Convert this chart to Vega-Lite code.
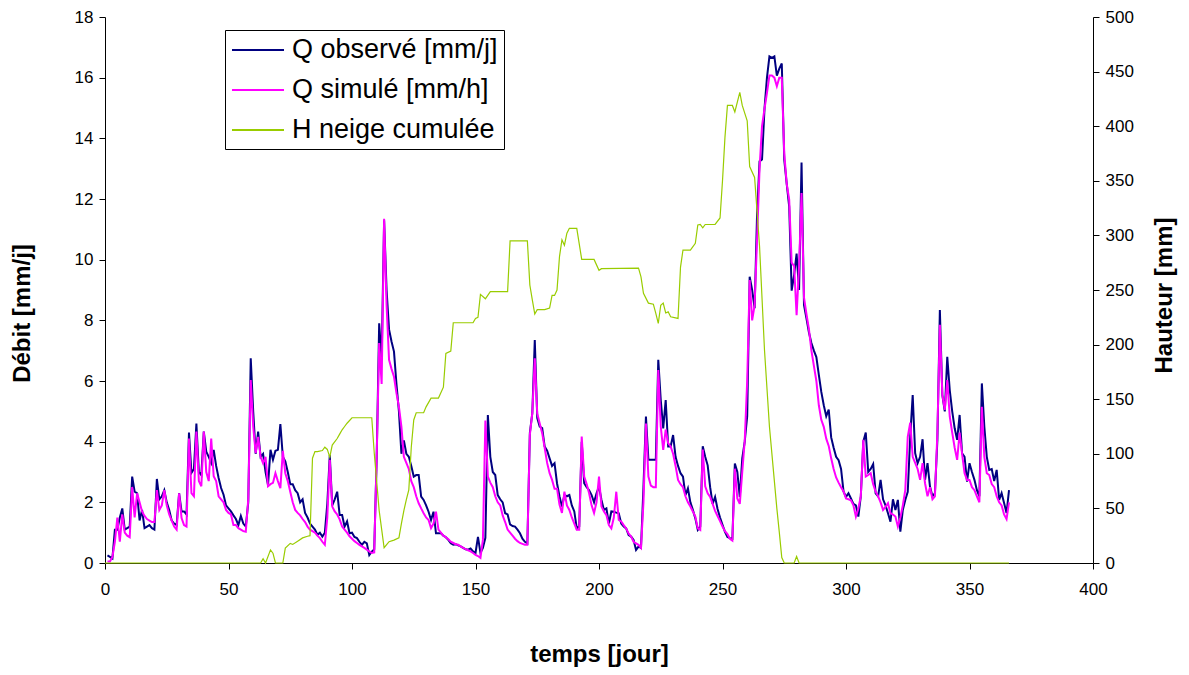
{
 "$schema": "https://vega.github.io/schema/vega-lite/v6.json",
 "width": 988, "height": 546,
 "autosize": {"type": "none"},
 "padding": {"left": 105, "top": 17, "right": 96, "bottom": 112},
 "background": "white",
 "config": {"view": {"stroke": null}, "font": "Liberation Sans",
  "axis": {"grid": false, "labelFlush": false, "domainColor": "#000", "tickColor": "#000", "labelColor": "#000", "titleColor": "#000", "labelFont": "Liberation Sans", "titleFont": "Liberation Sans", "labelFontSize": 17, "titleFontSize": 24, "titleFontWeight": "bold", "tickSize": 6, "labelPadding": 5}},
 "datasets": {
  "obs": [{"t":1,"v":0.25},{"t":2,"v":0.2},{"t":3,"v":0.15},{"t":4,"v":1.1},{"t":5,"v":1.1},{"t":6,"v":1.5},{"t":7,"v":1.8},{"t":8,"v":1.1},{"t":9,"v":1.15},{"t":10,"v":1.2},{"t":11,"v":2.85},{"t":12,"v":2.35},{"t":13,"v":2.3},{"t":14,"v":1.4},{"t":15,"v":1.75},{"t":16,"v":1.15},{"t":17,"v":1.2},{"t":18,"v":1.25},{"t":19,"v":1.15},{"t":20,"v":1.1},{"t":21,"v":2.77},{"t":22,"v":2.1},{"t":23,"v":2.2},{"t":24,"v":2.4},{"t":25,"v":2.0},{"t":26,"v":1.75},{"t":27,"v":1.4},{"t":28,"v":1.3},{"t":29,"v":1.25},{"t":30,"v":2.3},{"t":31,"v":1.7},{"t":32,"v":1.7},{"t":33,"v":1.6},{"t":34,"v":4.3},{"t":35,"v":2.97},{"t":36,"v":3.1},{"t":37,"v":4.6},{"t":38,"v":3.0},{"t":39,"v":2.9},{"t":40,"v":4.33},{"t":41,"v":3.67},{"t":42,"v":3.5},{"t":43,"v":3.3},{"t":44,"v":3.73},{"t":45,"v":3.2},{"t":46,"v":2.8},{"t":47,"v":2.47},{"t":48,"v":2.25},{"t":49,"v":1.9},{"t":50,"v":1.8},{"t":51,"v":1.7},{"t":52,"v":1.57},{"t":53,"v":1.45},{"t":54,"v":1.25},{"t":55,"v":1.55},{"t":56,"v":1.3},{"t":57,"v":1.2},{"t":58,"v":2.0},{"t":59,"v":6.75},{"t":60,"v":5.0},{"t":61,"v":3.6},{"t":62,"v":4.33},{"t":63,"v":3.5},{"t":64,"v":3.6},{"t":65,"v":3.0},{"t":66,"v":2.57},{"t":67,"v":3.73},{"t":68,"v":3.4},{"t":69,"v":3.7},{"t":70,"v":3.73},{"t":71,"v":4.58},{"t":72,"v":3.5},{"t":73,"v":3.35},{"t":74,"v":3.0},{"t":75,"v":2.6},{"t":76,"v":2.6},{"t":77,"v":2.4},{"t":78,"v":2.3},{"t":79,"v":2.0},{"t":80,"v":2.1},{"t":81,"v":1.65},{"t":82,"v":1.5},{"t":83,"v":1.3},{"t":84,"v":1.2},{"t":85,"v":1.1},{"t":86,"v":0.93},{"t":87,"v":1.0},{"t":88,"v":0.87},{"t":89,"v":1.0},{"t":90,"v":1.95},{"t":91,"v":3.56},{"t":92,"v":1.9},{"t":93,"v":2.1},{"t":94,"v":2.35},{"t":95,"v":1.58},{"t":96,"v":1.58},{"t":97,"v":1.2},{"t":98,"v":1.37},{"t":99,"v":0.98},{"t":100,"v":1.0},{"t":101,"v":0.86},{"t":102,"v":0.82},{"t":103,"v":0.7},{"t":104,"v":0.6},{"t":105,"v":0.7},{"t":106,"v":0.65},{"t":107,"v":0.26},{"t":108,"v":0.37},{"t":109,"v":0.45},{"t":110,"v":3.5},{"t":111,"v":7.9},{"t":112,"v":6.7},{"t":113,"v":11.3},{"t":114,"v":9.0},{"t":115,"v":7.7},{"t":116,"v":7.3},{"t":117,"v":6.97},{"t":118,"v":5.9},{"t":119,"v":5.0},{"t":120,"v":3.6},{"t":121,"v":4.04},{"t":122,"v":3.6},{"t":123,"v":3.5},{"t":124,"v":3.2},{"t":125,"v":2.85},{"t":126,"v":2.9},{"t":127,"v":2.9},{"t":128,"v":2.19},{"t":129,"v":2.08},{"t":130,"v":1.9},{"t":131,"v":1.69},{"t":132,"v":1.42},{"t":133,"v":1.69},{"t":134,"v":0.98},{"t":135,"v":0.98},{"t":136,"v":0.98},{"t":137,"v":0.9},{"t":138,"v":0.85},{"t":139,"v":0.76},{"t":140,"v":0.65},{"t":141,"v":0.6},{"t":142,"v":0.62},{"t":143,"v":0.58},{"t":144,"v":0.55},{"t":145,"v":0.5},{"t":146,"v":0.45},{"t":147,"v":0.44},{"t":148,"v":0.48},{"t":149,"v":0.38},{"t":150,"v":0.33},{"t":151,"v":0.86},{"t":152,"v":0.33},{"t":153,"v":0.5},{"t":154,"v":0.83},{"t":155,"v":4.88},{"t":156,"v":3.5},{"t":157,"v":3.0},{"t":158,"v":2.9},{"t":159,"v":2.24},{"t":160,"v":2.1},{"t":161,"v":2.0},{"t":162,"v":1.64},{"t":163,"v":1.6},{"t":164,"v":1.27},{"t":165,"v":1.22},{"t":166,"v":1.2},{"t":167,"v":1.1},{"t":168,"v":0.98},{"t":169,"v":0.8},{"t":170,"v":0.7},{"t":171,"v":0.65},{"t":172,"v":4.28},{"t":173,"v":4.94},{"t":174,"v":7.35},{"t":175,"v":4.78},{"t":176,"v":4.5},{"t":177,"v":4.45},{"t":178,"v":3.84},{"t":179,"v":3.7},{"t":180,"v":3.45},{"t":181,"v":3.2},{"t":182,"v":3.29},{"t":183,"v":2.63},{"t":184,"v":2.2},{"t":185,"v":1.86},{"t":186,"v":2.24},{"t":187,"v":2.2},{"t":188,"v":2.24},{"t":189,"v":1.9},{"t":190,"v":1.7},{"t":191,"v":1.14},{"t":192,"v":1.2},{"t":193,"v":4.0},{"t":194,"v":2.63},{"t":195,"v":2.5},{"t":196,"v":2.4},{"t":197,"v":2.24},{"t":198,"v":2.0},{"t":199,"v":2.3},{"t":200,"v":2.52},{"t":201,"v":2.08},{"t":202,"v":1.75},{"t":203,"v":1.8},{"t":204,"v":1.3},{"t":205,"v":1.7},{"t":206,"v":1.69},{"t":207,"v":1.66},{"t":208,"v":1.64},{"t":209,"v":1.3},{"t":210,"v":1.2},{"t":211,"v":1.14},{"t":212,"v":0.92},{"t":213,"v":0.87},{"t":214,"v":0.76},{"t":215,"v":0.43},{"t":216,"v":0.54},{"t":217,"v":0.5},{"t":218,"v":2.5},{"t":219,"v":4.83},{"t":220,"v":3.4},{"t":221,"v":3.4},{"t":222,"v":3.4},{"t":223,"v":3.4},{"t":224,"v":6.7},{"t":225,"v":5.37},{"t":226,"v":4.44},{"t":227,"v":5.37},{"t":228,"v":3.84},{"t":229,"v":3.84},{"t":230,"v":4.22},{"t":231,"v":3.5},{"t":232,"v":3.2},{"t":233,"v":2.96},{"t":234,"v":2.85},{"t":235,"v":2.24},{"t":236,"v":2.46},{"t":237,"v":2.0},{"t":238,"v":1.75},{"t":239,"v":1.47},{"t":240,"v":1.09},{"t":241,"v":1.2},{"t":242,"v":3.85},{"t":243,"v":3.5},{"t":244,"v":3.22},{"t":245,"v":2.5},{"t":246,"v":1.95},{"t":247,"v":2.18},{"t":248,"v":1.78},{"t":249,"v":1.5},{"t":250,"v":1.26},{"t":251,"v":1.03},{"t":252,"v":0.86},{"t":253,"v":0.82},{"t":254,"v":0.8},{"t":255,"v":3.28},{"t":256,"v":3.0},{"t":257,"v":2.18},{"t":258,"v":3.45},{"t":259,"v":4.0},{"t":260,"v":4.84},{"t":261,"v":9.44},{"t":262,"v":9.0},{"t":263,"v":8.4},{"t":264,"v":11.5},{"t":265,"v":13.24},{"t":266,"v":13.3},{"t":267,"v":14.97},{"t":268,"v":16.0},{"t":269,"v":16.7},{"t":270,"v":16.65},{"t":271,"v":16.7},{"t":272,"v":16.07},{"t":273,"v":16.3},{"t":274,"v":16.47},{"t":275,"v":13.3},{"t":276,"v":12.5},{"t":277,"v":11.75},{"t":278,"v":8.98},{"t":279,"v":9.5},{"t":280,"v":10.2},{"t":281,"v":9.0},{"t":282,"v":13.2},{"t":283,"v":8.5},{"t":284,"v":8.06},{"t":285,"v":7.6},{"t":286,"v":7.25},{"t":287,"v":7.0},{"t":288,"v":6.79},{"t":289,"v":6.2},{"t":290,"v":5.64},{"t":291,"v":5.2},{"t":292,"v":4.84},{"t":293,"v":5.06},{"t":294,"v":4.14},{"t":295,"v":3.8},{"t":296,"v":3.5},{"t":297,"v":3.39},{"t":298,"v":3.1},{"t":299,"v":2.36},{"t":300,"v":2.18},{"t":301,"v":2.3},{"t":302,"v":2.13},{"t":303,"v":1.95},{"t":304,"v":1.9},{"t":305,"v":1.53},{"t":306,"v":2.2},{"t":307,"v":4.0},{"t":308,"v":4.3},{"t":309,"v":3.0},{"t":310,"v":3.1},{"t":311,"v":3.26},{"t":312,"v":2.3},{"t":313,"v":2.2},{"t":314,"v":2.74},{"t":315,"v":2.1},{"t":316,"v":1.9},{"t":317,"v":1.64},{"t":318,"v":1.36},{"t":319,"v":2.1},{"t":320,"v":1.75},{"t":321,"v":2.08},{"t":322,"v":1.03},{"t":323,"v":1.75},{"t":324,"v":2.08},{"t":325,"v":2.35},{"t":326,"v":4.16},{"t":327,"v":5.54},{"t":328,"v":3.62},{"t":329,"v":3.29},{"t":330,"v":3.5},{"t":331,"v":4.08},{"t":332,"v":2.74},{"t":333,"v":3.29},{"t":334,"v":2.52},{"t":335,"v":2.2},{"t":336,"v":2.3},{"t":337,"v":4.06},{"t":338,"v":8.34},{"t":339,"v":5.54},{"t":340,"v":5.0},{"t":341,"v":6.8},{"t":342,"v":5.7},{"t":343,"v":5.0},{"t":344,"v":4.44},{"t":345,"v":4.06},{"t":346,"v":4.88},{"t":347,"v":3.62},{"t":348,"v":3.5},{"t":349,"v":2.68},{"t":350,"v":3.29},{"t":351,"v":3.0},{"t":352,"v":2.74},{"t":353,"v":2.4},{"t":354,"v":2.2},{"t":355,"v":5.92},{"t":356,"v":4.5},{"t":357,"v":3.5},{"t":358,"v":3.07},{"t":359,"v":3.1},{"t":360,"v":2.7},{"t":361,"v":3.07},{"t":362,"v":2.08},{"t":363,"v":2.3},{"t":364,"v":1.98},{"t":365,"v":1.65},{"t":366,"v":2.4}],
  "sim": [{"t":1,"v":0.05},{"t":2,"v":0.05},{"t":3,"v":0.2},{"t":4,"v":0.7},{"t":5,"v":1.5},{"t":6,"v":0.7},{"t":7,"v":1.6},{"t":8,"v":1.0},{"t":9,"v":0.9},{"t":10,"v":0.85},{"t":11,"v":2.5},{"t":12,"v":1.5},{"t":13,"v":2.3},{"t":14,"v":2.0},{"t":15,"v":1.7},{"t":16,"v":1.55},{"t":17,"v":1.45},{"t":18,"v":1.4},{"t":19,"v":1.35},{"t":20,"v":1.35},{"t":21,"v":2.4},{"t":22,"v":1.75},{"t":23,"v":1.9},{"t":24,"v":2.4},{"t":25,"v":1.9},{"t":26,"v":1.6},{"t":27,"v":1.4},{"t":28,"v":1.2},{"t":29,"v":1.1},{"t":30,"v":2.3},{"t":31,"v":1.48},{"t":32,"v":1.25},{"t":33,"v":1.2},{"t":34,"v":4.1},{"t":35,"v":2.3},{"t":36,"v":2.2},{"t":37,"v":4.33},{"t":38,"v":2.7},{"t":39,"v":2.53},{"t":40,"v":4.33},{"t":41,"v":3.0},{"t":42,"v":2.7},{"t":43,"v":4.1},{"t":44,"v":2.86},{"t":45,"v":2.7},{"t":46,"v":2.2},{"t":47,"v":2.1},{"t":48,"v":2.0},{"t":49,"v":1.75},{"t":50,"v":1.65},{"t":51,"v":1.6},{"t":52,"v":1.25},{"t":53,"v":1.25},{"t":54,"v":1.15},{"t":55,"v":1.1},{"t":56,"v":1.05},{"t":57,"v":1.03},{"t":58,"v":2.1},{"t":59,"v":6.03},{"t":60,"v":4.5},{"t":61,"v":3.62},{"t":62,"v":4.16},{"t":63,"v":3.5},{"t":64,"v":3.29},{"t":65,"v":3.5},{"t":66,"v":2.53},{"t":67,"v":2.6},{"t":68,"v":2.64},{"t":69,"v":2.96},{"t":70,"v":2.7},{"t":71,"v":2.47},{"t":72,"v":3.7},{"t":73,"v":2.96},{"t":74,"v":2.7},{"t":75,"v":2.35},{"t":76,"v":2.0},{"t":77,"v":1.75},{"t":78,"v":1.65},{"t":79,"v":1.57},{"t":80,"v":1.45},{"t":81,"v":1.35},{"t":82,"v":1.2},{"t":83,"v":1.1},{"t":84,"v":1.05},{"t":85,"v":1.0},{"t":86,"v":0.9},{"t":87,"v":0.82},{"t":88,"v":0.7},{"t":89,"v":0.6},{"t":90,"v":1.5},{"t":91,"v":3.4},{"t":92,"v":1.86},{"t":93,"v":1.7},{"t":94,"v":1.6},{"t":95,"v":1.44},{"t":96,"v":1.2},{"t":97,"v":1.1},{"t":98,"v":1.0},{"t":99,"v":0.88},{"t":100,"v":0.8},{"t":101,"v":0.72},{"t":102,"v":0.66},{"t":103,"v":0.6},{"t":104,"v":0.55},{"t":105,"v":0.5},{"t":106,"v":0.44},{"t":107,"v":0.38},{"t":108,"v":0.33},{"t":109,"v":0.35},{"t":110,"v":3.5},{"t":111,"v":7.25},{"t":112,"v":5.9},{"t":113,"v":11.35},{"t":114,"v":8.5},{"t":115,"v":6.7},{"t":116,"v":6.4},{"t":117,"v":6.14},{"t":118,"v":5.6},{"t":119,"v":5.15},{"t":120,"v":4.5},{"t":121,"v":3.5},{"t":122,"v":3.3},{"t":123,"v":3.1},{"t":124,"v":2.7},{"t":125,"v":2.5},{"t":126,"v":2.2},{"t":127,"v":1.97},{"t":128,"v":1.8},{"t":129,"v":1.64},{"t":130,"v":1.5},{"t":131,"v":1.42},{"t":132,"v":1.15},{"t":133,"v":1.3},{"t":134,"v":1.69},{"t":135,"v":1.1},{"t":136,"v":1.0},{"t":137,"v":0.9},{"t":138,"v":0.85},{"t":139,"v":0.78},{"t":140,"v":0.7},{"t":141,"v":0.66},{"t":142,"v":0.62},{"t":143,"v":0.6},{"t":144,"v":0.55},{"t":145,"v":0.5},{"t":146,"v":0.46},{"t":147,"v":0.42},{"t":148,"v":0.38},{"t":149,"v":0.33},{"t":150,"v":0.27},{"t":151,"v":0.23},{"t":152,"v":0.17},{"t":153,"v":0.77},{"t":154,"v":4.7},{"t":155,"v":2.85},{"t":156,"v":2.65},{"t":157,"v":2.5},{"t":158,"v":2.2},{"t":159,"v":2.0},{"t":160,"v":1.9},{"t":161,"v":1.57},{"t":162,"v":1.35},{"t":163,"v":1.1},{"t":164,"v":1.0},{"t":165,"v":0.9},{"t":166,"v":0.8},{"t":167,"v":0.72},{"t":168,"v":0.66},{"t":169,"v":0.63},{"t":170,"v":0.6},{"t":171,"v":0.6},{"t":172,"v":4.22},{"t":173,"v":4.95},{"t":174,"v":6.75},{"t":175,"v":4.93},{"t":176,"v":4.6},{"t":177,"v":4.28},{"t":178,"v":3.8},{"t":179,"v":3.3},{"t":180,"v":2.96},{"t":181,"v":2.74},{"t":182,"v":2.45},{"t":183,"v":2.45},{"t":184,"v":1.93},{"t":185,"v":1.65},{"t":186,"v":2.35},{"t":187,"v":1.9},{"t":188,"v":1.75},{"t":189,"v":1.5},{"t":190,"v":1.3},{"t":191,"v":1.1},{"t":192,"v":1.1},{"t":193,"v":4.17},{"t":194,"v":2.85},{"t":195,"v":2.6},{"t":196,"v":2.3},{"t":197,"v":1.9},{"t":198,"v":1.65},{"t":199,"v":2.0},{"t":200,"v":2.85},{"t":201,"v":1.86},{"t":202,"v":1.7},{"t":203,"v":1.58},{"t":204,"v":1.25},{"t":205,"v":1.14},{"t":206,"v":1.5},{"t":207,"v":2.35},{"t":208,"v":1.42},{"t":209,"v":1.37},{"t":210,"v":1.25},{"t":211,"v":1.14},{"t":212,"v":0.97},{"t":213,"v":0.87},{"t":214,"v":0.7},{"t":215,"v":0.65},{"t":216,"v":0.6},{"t":217,"v":0.5},{"t":218,"v":2.0},{"t":219,"v":4.6},{"t":220,"v":2.85},{"t":221,"v":2.55},{"t":222,"v":2.5},{"t":223,"v":2.5},{"t":224,"v":6.36},{"t":225,"v":4.5},{"t":226,"v":3.73},{"t":227,"v":4.4},{"t":228,"v":3.95},{"t":229,"v":3.84},{"t":230,"v":3.6},{"t":231,"v":3.2},{"t":232,"v":2.74},{"t":233,"v":2.6},{"t":234,"v":2.5},{"t":235,"v":2.2},{"t":236,"v":2.0},{"t":237,"v":1.86},{"t":238,"v":1.7},{"t":239,"v":1.53},{"t":240,"v":1.14},{"t":241,"v":1.09},{"t":242,"v":3.74},{"t":243,"v":2.53},{"t":244,"v":2.3},{"t":245,"v":2.18},{"t":246,"v":1.95},{"t":247,"v":1.72},{"t":248,"v":1.55},{"t":249,"v":1.38},{"t":250,"v":1.2},{"t":251,"v":1.05},{"t":252,"v":0.95},{"t":253,"v":0.8},{"t":254,"v":0.74},{"t":255,"v":3.11},{"t":256,"v":2.13},{"t":257,"v":1.95},{"t":258,"v":3.0},{"t":259,"v":4.03},{"t":260,"v":6.0},{"t":261,"v":9.33},{"t":262,"v":8.0},{"t":263,"v":8.5},{"t":264,"v":10.7},{"t":265,"v":13.0},{"t":266,"v":14.4},{"t":267,"v":14.97},{"t":268,"v":15.5},{"t":269,"v":16.07},{"t":270,"v":16.07},{"t":271,"v":16.0},{"t":272,"v":15.72},{"t":273,"v":16.0},{"t":274,"v":16.0},{"t":275,"v":13.5},{"t":276,"v":12.5},{"t":277,"v":11.98},{"t":278,"v":9.9},{"t":279,"v":9.79},{"t":280,"v":8.17},{"t":281,"v":9.79},{"t":282,"v":12.2},{"t":283,"v":8.75},{"t":284,"v":8.2},{"t":285,"v":7.7},{"t":286,"v":7.0},{"t":287,"v":6.5},{"t":288,"v":6.0},{"t":289,"v":5.2},{"t":290,"v":4.72},{"t":291,"v":4.49},{"t":292,"v":4.1},{"t":293,"v":3.86},{"t":294,"v":3.45},{"t":295,"v":3.1},{"t":296,"v":2.82},{"t":297,"v":2.65},{"t":298,"v":2.5},{"t":299,"v":2.36},{"t":300,"v":2.13},{"t":301,"v":2.1},{"t":302,"v":2.07},{"t":303,"v":1.9},{"t":304,"v":1.53},{"t":305,"v":1.8},{"t":306,"v":2.2},{"t":307,"v":4.06},{"t":308,"v":2.85},{"t":309,"v":2.9},{"t":310,"v":2.96},{"t":311,"v":2.6},{"t":312,"v":2.35},{"t":313,"v":2.2},{"t":314,"v":2.0},{"t":315,"v":1.75},{"t":316,"v":1.85},{"t":317,"v":1.97},{"t":318,"v":1.64},{"t":319,"v":1.6},{"t":320,"v":1.53},{"t":321,"v":1.2},{"t":322,"v":1.5},{"t":323,"v":1.9},{"t":324,"v":2.4},{"t":325,"v":4.16},{"t":326,"v":4.63},{"t":327,"v":3.5},{"t":328,"v":3.3},{"t":329,"v":3.1},{"t":330,"v":2.74},{"t":331,"v":3.29},{"t":332,"v":2.63},{"t":333,"v":2.2},{"t":334,"v":2.5},{"t":335,"v":2.1},{"t":336,"v":2.2},{"t":337,"v":4.3},{"t":338,"v":7.85},{"t":339,"v":5.54},{"t":340,"v":5.05},{"t":341,"v":6.03},{"t":342,"v":4.83},{"t":343,"v":4.3},{"t":344,"v":3.8},{"t":345,"v":3.4},{"t":346,"v":4.3},{"t":347,"v":3.6},{"t":348,"v":2.96},{"t":349,"v":2.74},{"t":350,"v":2.74},{"t":351,"v":2.5},{"t":352,"v":2.4},{"t":353,"v":2.2},{"t":354,"v":2.0},{"t":355,"v":5.15},{"t":356,"v":3.5},{"t":357,"v":2.96},{"t":358,"v":2.9},{"t":359,"v":2.6},{"t":360,"v":2.5},{"t":361,"v":2.2},{"t":362,"v":2.0},{"t":363,"v":1.9},{"t":364,"v":1.6},{"t":365,"v":1.45},{"t":366,"v":2.0}],
  "h": [{"t":0,"v":0},{"t":63,"v":0},{"t":64,"v":4},{"t":65,"v":0},{"t":67,"v":12},{"t":68,"v":9},{"t":69,"v":0},{"t":72,"v":0},{"t":73,"v":13.6},{"t":75,"v":18},{"t":76,"v":17},{"t":78,"v":20},{"t":80,"v":23},{"t":82,"v":24.5},{"t":83,"v":25},{"t":84,"v":96},{"t":85,"v":102},{"t":86,"v":102},{"t":88,"v":103},{"t":89,"v":106},{"t":90,"v":104},{"t":91,"v":97},{"t":92,"v":108},{"t":94,"v":114},{"t":95,"v":118},{"t":96,"v":122},{"t":97,"v":125},{"t":98,"v":128},{"t":100,"v":133},{"t":108,"v":133},{"t":109,"v":101},{"t":111,"v":48},{"t":113,"v":14},{"t":115,"v":19.5},{"t":117,"v":21},{"t":119,"v":23},{"t":120,"v":36},{"t":121,"v":48},{"t":122,"v":58},{"t":123,"v":67},{"t":124,"v":106},{"t":125,"v":131},{"t":126,"v":137.6},{"t":129,"v":137.6},{"t":130,"v":143},{"t":132,"v":151},{"t":135,"v":151},{"t":137,"v":161},{"t":138,"v":192},{"t":140,"v":194},{"t":141,"v":220},{"t":149,"v":220},{"t":150,"v":224},{"t":151,"v":225},{"t":152,"v":246},{"t":154,"v":242},{"t":156,"v":248.5},{"t":163,"v":248.5},{"t":164,"v":295},{"t":171,"v":295},{"t":172,"v":254.6},{"t":173,"v":241},{"t":174,"v":228},{"t":175,"v":232},{"t":178,"v":232},{"t":180,"v":233.5},{"t":181,"v":245},{"t":182,"v":245},{"t":183,"v":250},{"t":184,"v":280.5},{"t":185,"v":296},{"t":186,"v":291},{"t":187,"v":302},{"t":188,"v":306.5},{"t":191,"v":306.5},{"t":193,"v":278},{"t":198,"v":278},{"t":200,"v":268},{"t":201,"v":269.5},{"t":216,"v":270},{"t":217,"v":262},{"t":218,"v":247},{"t":220,"v":238},{"t":222,"v":237},{"t":223,"v":228.6},{"t":224,"v":219.5},{"t":225,"v":236},{"t":226,"v":238},{"t":227,"v":229},{"t":228,"v":230},{"t":229,"v":225.5},{"t":232,"v":224},{"t":233,"v":271},{"t":234,"v":286.6},{"t":237,"v":286.6},{"t":239,"v":292.8},{"t":240,"v":309.5},{"t":241,"v":310},{"t":242,"v":307},{"t":243,"v":310},{"t":247,"v":310},{"t":249,"v":316},{"t":250,"v":350},{"t":251,"v":390},{"t":252,"v":419},{"t":254,"v":419},{"t":255,"v":413},{"t":257,"v":431},{"t":258,"v":419},{"t":260,"v":405},{"t":261,"v":363},{"t":263,"v":353},{"t":265,"v":290},{"t":267,"v":195},{"t":269,"v":125},{"t":271,"v":75},{"t":272,"v":50},{"t":273,"v":28},{"t":274,"v":5},{"t":275,"v":0},{"t":279,"v":0},{"t":280,"v":6},{"t":281,"v":0},{"t":366,"v":0}]
 },
 "layer": [
  {"layer": [
   {"data": {"name": "obs"},
    "mark": {"type": "line", "strokeWidth": 2},
    "encoding": {
     "x": {"field": "t", "type": "quantitative", "scale": {"domain": [0, 400], "nice": false},
       "axis": {"values": [0,50,100,150,200,250,300,350,400], "title": "temps [jour]", "titlePadding": 45, "labelPadding": 12}},
     "y": {"field": "v", "type": "quantitative", "scale": {"domain": [0, 18], "nice": false},
       "axis": {"values": [0,2,4,6,8,10,12,14,16,18], "title": "Débit [mm/j]", "titlePadding": 40, "titleY": 296, "labelPadding": 6}},
     "color": {"datum": "Q observé [mm/j]", "type": "nominal",
       "scale": {"domain": ["Q observé [mm/j]", "Q simulé [mm/h]", "H neige cumulée"], "range": ["#000080", "#FF00FF", "#99CC00"]},
       "legend": {"title": null, "orient": "none", "legendX": 120, "legendY": 13, "symbolType": "M-1,0H3", "symbolSize": 676, "symbolStrokeWidth": 2, "labelFontSize": 27, "labelFont": "Liberation Sans", "labelColor": "#000", "labelLimit": 400, "labelOffset": 33, "rowPadding": 13, "padding": 6, "strokeColor": "#000", "fillColor": "#fff"}}
    }},
   {"data": {"name": "sim"},
    "mark": {"type": "line", "strokeWidth": 2},
    "encoding": {
     "x": {"field": "t", "type": "quantitative"},
     "y": {"field": "v", "type": "quantitative"},
     "color": {"datum": "Q simulé [mm/h]", "type": "nominal"}
    }}
  ]},
  {"data": {"name": "h"},
   "mark": {"type": "line", "strokeWidth": 1.2},
   "encoding": {
    "x": {"field": "t", "type": "quantitative"},
    "y": {"field": "v", "type": "quantitative", "scale": {"domain": [0, 500], "nice": false},
      "axis": {"orient": "right", "values": [0,50,100,150,200,250,300,350,400,450,500], "title": "Hauteur [mm]", "titleAngle": -90, "titlePadding": 43, "titleY": 278, "labelPadding": 6}},
    "color": {"datum": "H neige cumulée", "type": "nominal"}
   }}
 ],
 "resolve": {"scale": {"y": "independent"}}
}
